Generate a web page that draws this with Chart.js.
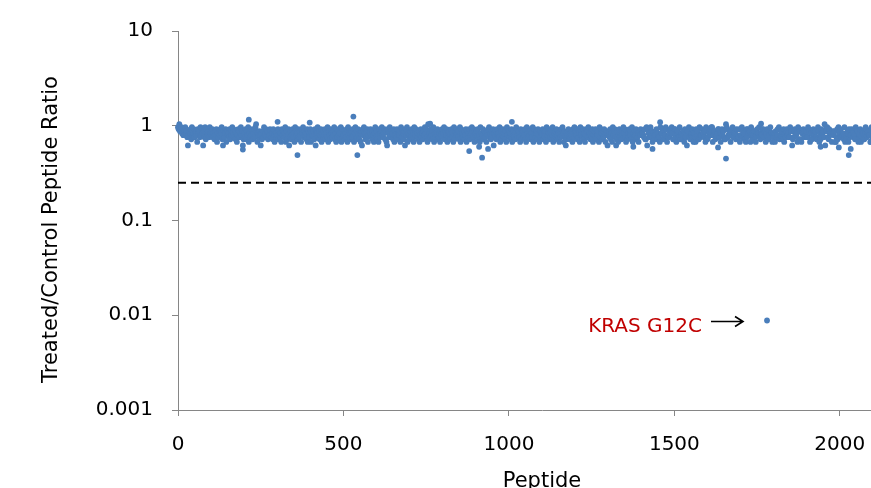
<!DOCTYPE html>
<html>
<head>
<meta charset="utf-8">
<script src="https://cdn.jsdelivr.net/npm/chart.js@4.4.1/dist/chart.umd.min.js"></script>
<style>
  html, body { margin: 0; padding: 0; background: #fff; overflow: hidden; }
  #wrap { width: 871px; height: 488px; overflow: hidden; }
</style>
</head>
<body>
<div id="wrap"><canvas id="chart" width="910" height="488"></canvas></div>
<script>
// axis values
const xTicks = [0, 500, 1000, 1500, 2000];
const yTicks = [0.001, 0.01, 0.1, 1, 10];
const xMax = 2200;
const cutoff = 0.25;

// band of peptides: one code per 2 peptides, each code is a ratio level
const step = 2;
const levels = [1.037, 0.965, 0.92, 0.876, 0.835, 0.795, 0.758, 0.72, 0.675, 0.62];
const ratioCodes = [
  '12032142535143695342715426353824361524936172453614',
  '35264735284635241793642835462735142637485236415397',
  '46273518462537426103846359473615426374523647258364',
  '52736482536418375296375264813547263582416354728364',
  '28453672934163752846352746183572463517482635471826',
  '53746281534736258417362574839251473628534263758416',
  '37582643156427389246153647285362745381624739251847',
  '53627481532647385264735142680746253718463527648352',
  '64173528463752648173524637182546375283642754136285',
  '43627581465273648352164735294637254618375264738152',
  '36472853647152436827436527814625374618256437258364',
  '52746381524736251847362574836251483697532674538261',
  '43572648153627485236154736285362745381624736258349',
  '53627481532697385264735142683746253718463527648352',
  '33456277192466153847553274668144273651286635241477',
  '22584366175473382649331675424846825377165524463817',
  '76432511853376542264842536770126544835164437256628',
  '55163477826243381575336852441674522633842675314486',
  '44836522175367728463254661339763255481723784426653',
  '66123844752453677138572443609231672544834538862714',
  '32655471867438265523465712338652863477412643558817'
];

// peptides sitting outside the band
const outlierX = [196, 214, 301, 361, 398, 530, 542, 762, 880, 910, 919, 937, 1009, 1376, 1434, 1457, 1632, 1656, 1762, 1942, 1997, 2027, 2033];
const outlierY = [0.56, 1.16, 1.1, 0.49, 1.08, 1.25, 0.49, 1.05, 0.54, 0.6, 0.46, 0.57, 1.1, 0.6, 0.57, 1.09, 0.59, 0.45, 1.05, 0.6, 0.59, 0.49, 0.57];

const kras = { x: 1780, y: 0.0088, label: 'KRAS G12C' };

const points = ratioCodes.join('').split('').map((c, i) => ({ x: i * step, y: levels[+c] }));
outlierX.forEach((x, i) => points.push({ x: x, y: outlierY[i] }));
points.push({ x: kras.x, y: kras.y });

const FONT = 'DejaVu Sans';
const AXIS = '#868686';

// label, arrow and axis titles
const annotations = {
  id: 'annotations',
  afterDatasetsDraw(chart) {
    const { ctx, chartArea, scales: { x, y } } = chart;
    const px = x.getPixelForValue(kras.x);
    const py = y.getPixelForValue(kras.y);
    ctx.save();
    ctx.font = '20px "' + FONT + '"';
    ctx.fillStyle = '#C00000';
    ctx.textAlign = 'right';
    ctx.textBaseline = 'alphabetic';
    ctx.fillText(kras.label, px - 65, py + 11);

    ctx.strokeStyle = '#000';
    ctx.lineWidth = 1.6;
    ctx.beginPath();
    ctx.moveTo(px - 56, py + 1);
    ctx.lineTo(px - 24, py + 1);
    ctx.moveTo(px - 32, py - 4);
    ctx.lineTo(px - 24, py + 1);
    ctx.lineTo(px - 32, py + 6);
    ctx.stroke();

    ctx.fillStyle = '#000';
    ctx.textAlign = 'center';
    ctx.font = '21px "' + FONT + '"';
    ctx.fillText('Peptide', (chartArea.left + chartArea.right) / 2, 487);
    ctx.translate(57, 229.5);
    ctx.rotate(-Math.PI / 2);
    ctx.fillText('Treated/Control Peptide Ratio', 0, 0);
    ctx.restore();
  }
};

new Chart(document.getElementById('chart'), {
  type: 'scatter',
  data: {
    datasets: [
      {
        data: points,
        backgroundColor: '#4A7EBB',
        borderWidth: 0,
        pointRadius: 2.9,
        clip: 6
      },
      {
        type: 'line',
        data: [{ x: 0, y: cutoff }, { x: xMax, y: cutoff }],
        borderColor: '#000',
        borderWidth: 2,
        borderDash: [8, 5],
        pointRadius: 0
      }
    ]
  },
  options: {
    responsive: false,
    animation: false,
    layout: { padding: { top: 31, right: 3, left: 0, bottom: 0 } },
    plugins: { legend: { display: false }, tooltip: { enabled: false } },
    scales: {
      x: {
        type: 'linear',
        min: 0,
        max: xMax,
        afterBuildTicks: s => { s.ticks = xTicks.map(v => ({ value: v })); },
        afterFit: s => { s.height = 78; },
        border: { color: AXIS, width: 1 },
        grid: { drawOnChartArea: false, tickLength: 6, color: AXIS },
        ticks: { padding: 17, color: '#000', font: { family: FONT, size: 20 }, callback: v => String(v) }
      },
      y: {
        type: 'logarithmic',
        min: 0.001,
        max: 10,
        afterBuildTicks: s => { s.ticks = yTicks.map(v => ({ value: v })); },
        afterFit: s => { s.width = 178; },
        border: { color: AXIS, width: 1 },
        grid: { drawOnChartArea: false, tickLength: 6, color: AXIS },
        ticks: { padding: 19, color: '#000', font: { family: FONT, size: 20 }, callback: v => String(v) }
      }
    }
  },
  plugins: [annotations]
});
</script>
</body>
</html>
